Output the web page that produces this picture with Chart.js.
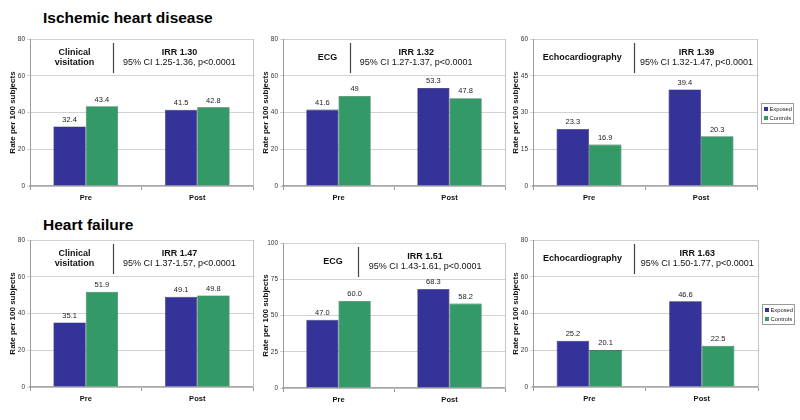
<!DOCTYPE html>
<html>
<head>
<meta charset="utf-8">
<script src="https://cdn.jsdelivr.net/npm/chart.js@4.4.0/dist/chart.umd.min.js"></script>
<style>
    body { margin: 0; background: #fff; }
    #wrap { position: relative; width: 800px; height: 420px; overflow: hidden; font-family: "Liberation Sans", Arial, sans-serif; }
    .title { position: absolute; left: 43px; font-weight: bold; font-size: 15.5px; color: #000; }
    canvas { position: absolute; }
</style>
</head>
<body>
<div id="wrap">
    <div class="title" style="top:9px">Ischemic heart disease</div>
    <div class="title" style="top:216px">Heart failure</div>
</div>
<script>
    const categories = ['Pre', 'Post'];
    const seriesNames = ['Exposed', 'Controls'];

    // Ischemic heart disease
    const ihdClinicalExposed = [32.4, 41.5];
    const ihdClinicalControls = [43.4, 42.8];
    const ihdEcgExposed = [41.6, 53.3];
    const ihdEcgControls = [49, 47.8];
    const ihdEchoExposed = [23.3, 39.4];
    const ihdEchoControls = [16.9, 20.3];

    // Heart failure
    const hfClinicalExposed = [35.1, 49.1];
    const hfClinicalControls = [51.9, 49.8];
    const hfEcgExposed = [47.0, 68.3];
    const hfEcgControls = [60.0, 58.2];
    const hfEchoExposed = [25.2, 46.6];
    const hfEchoControls = [20.1, 22.5];

    const axisMax = [80, 80, 60, 80, 100, 80];
    const axisStep = [20, 20, 15, 20, 25, 20];

    const methodNames = [
        ['Clinical', 'visitation'], ['ECG'], ['Echocardiography'],
        ['Clinical', 'visitation'], ['ECG'], ['Echocardiography']
    ];
    const irrTexts = ['IRR 1.30', 'IRR 1.32', 'IRR 1.39', 'IRR 1.47', 'IRR 1.51', 'IRR 1.63'];
    const ciTexts = [
        '95% CI 1.25-1.36, p<0.0001',
        '95% CI 1.27-1.37, p<0.0001',
        '95% CI 1.32-1.47, p<0.0001',
        '95% CI 1.37-1.57, p<0.0001',
        '95% CI 1.43-1.61, p<0.0001',
        '95% CI 1.50-1.77, p<0.0001'
    ];

    const FONT = '"Liberation Sans", Arial, sans-serif';
    const BLUE = '#333399';
    const GREEN = '#339966';
    Chart.defaults.font.family = FONT;

    const plain = v => String(v);
    const oneDec = v => v.toFixed(1);

    // plot area [left, top, right, bottom] in page pixels, plus annotation layout as fractions of the plot width
    const panels = [
        { exp: ihdClinicalExposed, ctl: ihdClinicalControls, fmt: plain, area: [30, 39, 253, 186], sep: 0.37, lab: 0.20, txt: 0.67 },
        { exp: ihdEcgExposed, ctl: ihdEcgControls, fmt: plain, area: [283, 39, 505, 186], sep: 0.30, lab: 0.20, txt: 0.60 },
        { exp: ihdEchoExposed, ctl: ihdEchoControls, fmt: plain, area: [533, 39, 757, 186], sep: 0.45, lab: 0.22, txt: 0.73, legend: true },
        { exp: hfClinicalExposed, ctl: hfClinicalControls, fmt: oneDec, area: [30, 240, 253, 387], sep: 0.37, lab: 0.20, txt: 0.67 },
        { exp: hfEcgExposed, ctl: hfEcgControls, fmt: oneDec, area: [283, 243, 505, 388], sep: 0.34, lab: 0.225, txt: 0.64 },
        { exp: hfEchoExposed, ctl: hfEchoControls, fmt: oneDec, area: [533, 240, 758, 387], sep: 0.45, lab: 0.22, txt: 0.73, legend: true }
    ];

    const panelDecor = {
        id: 'panelDecor',
        afterDatasetsDraw(chart, args, opts) {
            const ctx = chart.ctx;
            const ca = chart.chartArea;
            const w = ca.right - ca.left;
            ctx.save();

            // right border of plot area
            ctx.strokeStyle = '#c4c4c4';
            ctx.lineWidth = 1;
            ctx.beginPath();
            ctx.moveTo(ca.right + 0.5, ca.top);
            ctx.lineTo(ca.right + 0.5, ca.bottom);
            ctx.stroke();

            // value labels above bars
            ctx.fillStyle = '#222';
            ctx.font = '7.5px ' + FONT;
            ctx.textAlign = 'center';
            ctx.textBaseline = 'bottom';
            chart.data.datasets.forEach((ds, di) => {
                chart.getDatasetMeta(di).data.forEach((bar, i) => {
                    ctx.fillText(opts.fmt(ds.data[i]), bar.x, bar.y - 3);
                });
            });

            // method / IRR annotation box
            const sx = Math.round(ca.left + w * opts.sep) + 0.5;
            ctx.strokeStyle = '#444';
            ctx.lineWidth = 1.2;
            ctx.beginPath();
            ctx.moveTo(sx, ca.top + 4);
            ctx.lineTo(sx, ca.top + 34);
            ctx.stroke();

            ctx.fillStyle = '#111';
            ctx.textBaseline = 'middle';
            ctx.font = 'bold 9px ' + FONT;
            const lx = ca.left + w * opts.lab;
            if (opts.method.length === 2) {
                ctx.fillText(opts.method[0], lx, ca.top + 14);
                ctx.fillText(opts.method[1], lx, ca.top + 23.5);
            } else {
                ctx.fillText(opts.method[0], lx, ca.top + 19);
            }
            const tx = ca.left + w * opts.txt;
            ctx.fillText(opts.irr, tx, ca.top + 14);
            ctx.font = '9px ' + FONT;
            ctx.fillText(opts.ci, tx, ca.top + 23.5);

            // legend
            if (opts.legend) {
                const bx = ca.right + 4.5;
                const cy = (ca.top + ca.bottom) / 2;
                const by = Math.round(cy - 10) + 0.5;
                ctx.fillStyle = '#fff';
                ctx.fillRect(bx, by, 32, 20);
                ctx.strokeStyle = '#9a9a9a';
                ctx.lineWidth = 1;
                ctx.strokeRect(bx, by, 32, 20);
                ctx.font = '5.8px ' + FONT;
                ctx.textAlign = 'left';
                chart.data.datasets.forEach((ds, di) => {
                    const y = by + 5.5 + di * 9;
                    ctx.fillStyle = ds.backgroundColor;
                    ctx.fillRect(bx + 2.5, y - 2, 4, 4);
                    ctx.fillStyle = '#222';
                    ctx.fillText(ds.label, bx + 8, y + 0.5);
                });
            }
            ctx.restore();
        }
    };

    const wrap = document.getElementById('wrap');

    panels.forEach((p, k) => {
        const [l, t, r, b] = p.area;
        const cLeft = l - 30;
        const cTop = t - 9;
        const padRight = p.legend ? 800 - r : 5;
        const cw = r - cLeft + padRight;
        const ch = b - cTop + 20;

        const canvas = document.createElement('canvas');
        canvas.width = cw;
        canvas.height = ch;
        canvas.style.left = cLeft + 'px';
        canvas.style.top = cTop + 'px';
        canvas.style.width = cw + 'px';
        canvas.style.height = ch + 'px';
        wrap.appendChild(canvas);

        new Chart(canvas.getContext('2d'), {
            type: 'bar',
            data: {
                labels: categories,
                datasets: [
                    { label: seriesNames[0], data: p.exp, backgroundColor: BLUE, borderColor: '#23235e', borderWidth: 0.6 },
                    { label: seriesNames[1], data: p.ctl, backgroundColor: GREEN, borderColor: '#22553b', borderWidth: 0.6 }
                ]
            },
            options: {
                responsive: false,
                animation: false,
                devicePixelRatio: 1,
                layout: { padding: { top: 9, right: padRight, left: 0, bottom: 0 } },
                datasets: { bar: { categoryPercentage: 0.58, barPercentage: 1 } },
                plugins: {
                    legend: { display: false },
                    tooltip: { enabled: false },
                    panelDecor: {
                        fmt: p.fmt, method: methodNames[k], irr: irrTexts[k], ci: ciTexts[k],
                        sep: p.sep, lab: p.lab, txt: p.txt, legend: !!p.legend
                    }
                },
                scales: {
                    x: {
                        grid: { offset: true, drawOnChartArea: false, tickLength: 4, color: '#9a9a9a' },
                        border: { color: '#a8a8a8', width: 1.5 },
                        ticks: { font: { size: 7.5, weight: 'bold' }, color: '#111', padding: 3 },
                        afterFit(s) { s.height = 20; }
                    },
                    y: {
                        min: 0,
                        max: axisMax[k],
                        ticks: { stepSize: axisStep[k], font: { size: 6.5 }, color: '#333', padding: 2 },
                        grid: { color: '#d2d2d2', tickLength: 3 },
                        border: { color: '#9a9a9a' },
                        title: {
                            display: true, text: 'Rate per 100 subjects', color: '#111',
                            font: { size: 8, weight: 'bold' }, padding: { top: 7.5, bottom: 0 }
                        },
                        afterFit(s) { s.width = 30; }
                    }
                }
            },
            plugins: [panelDecor]
        });
    });
</script>
</body>
</html>
